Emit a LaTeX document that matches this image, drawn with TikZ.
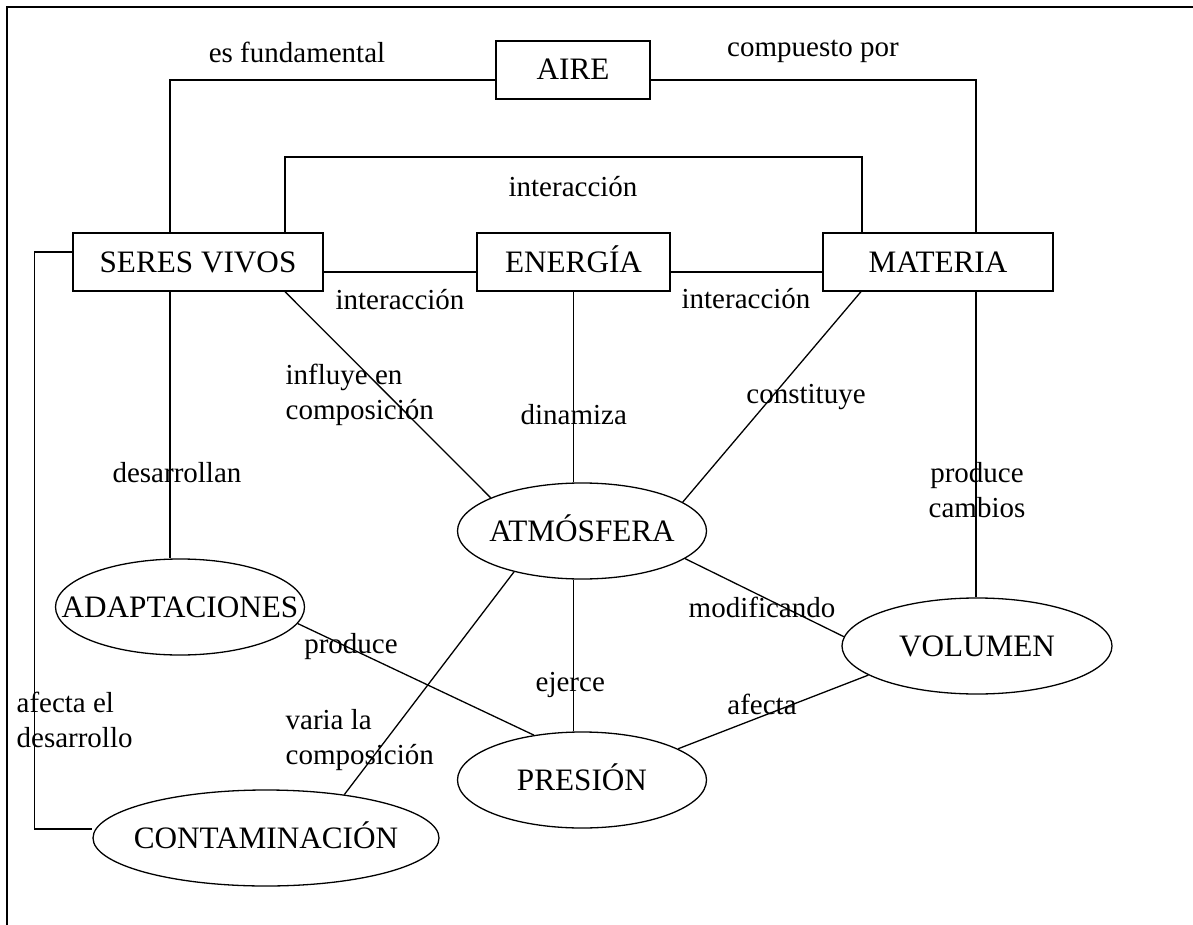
\documentclass[tikz,border=0pt]{standalone}
\usepackage{fontspec}
\setmainfont{Liberation Serif}
\usepackage{tikz}
\usetikzlibrary{shapes}

\newcommand{\ovaltext}[1]{\makebox[0pt]{#1}}

\begin{document}
\begin{tikzpicture}[x=0.5pt, y=-0.5pt, line width=0.65pt]
            \tikzstyle{concept} = [draw, rectangle, minimum height=29pt, inner sep=0pt, text height=10.5pt, text depth=0.5pt, font=\fontsize{15.6}{18}\selectfont]
            \tikzstyle{oval} = [draw, ellipse, minimum height=48pt, minimum width=124.5pt, inner sep=0pt, text height=10.5pt, text depth=0.5pt, font=\fontsize{15.6}{18}\selectfont]
            \tikzstyle{linktext} = [inner sep=0pt, font=\fontsize{14.5}{17.5}\selectfont]

            \useasboundingbox (0,0) rectangle (1193,925);
            \draw (7,925) -- (7,7) -- (1193,7);

            % concepts
            \node[concept, minimum width=77pt] (aire) at (573,70) {AIRE};
            \node[concept, minimum width=125pt] (seres) at (198,262) {SERES VIVOS};
            \node[concept, minimum width=96.5pt] (energia) at (573.5,262) {ENERGÍA};
            \node[concept, minimum width=115pt] (materia) at (938,262) {MATERIA};
            \node[oval] (atm) at (582,531) {\ovaltext{ATMÓSFERA}};
            \node[oval] (adapt) at (180,607) {\ovaltext{ADAPTACIONES}};
            \node[oval, minimum width=135pt] (vol) at (977,646) {\ovaltext{VOLUMEN}};
            \node[oval] (pres) at (582,780) {\ovaltext{PRESIÓN}};
            \node[oval, minimum width=173pt] (cont) at (266,838) {\ovaltext{CONTAMINACIÓN}};
            \coordinate (topline) at (573,157);

            % connectors
            \draw ([yshift=-5pt]aire.west) -| ([xshift=-14pt]seres.north);
            \draw ([yshift=-5pt]aire.east) -| ([xshift=19pt]materia.north);
            \draw ([xshift=43.5pt]seres.north) |- (topline) -| ([xshift=-38pt]materia.north);
            \draw ([yshift=-5pt]seres.east) -- ([yshift=-5pt]energia.west);
            \draw ([yshift=-5pt]energia.east) -- ([yshift=-5pt]materia.west);
            \draw ([xshift=43.5pt]seres.south) -- (atm.160);
            \draw (energia.south) -- (energia.south |- atm.north);
            \draw ([xshift=-38.5pt]materia.south) -- (atm.16);
            \draw ([xshift=19pt]materia.south) -- ([xshift=19pt]materia.south |- vol.north);
            \draw ([xshift=-14pt]seres.south) -- ([xshift=-14pt]seres.south |- adapt.north);
            \draw (atm.-15) -- (vol.176);
            \draw (vol.195) -- (pres.18);
            \draw (energia.south |- atm.south) -- (energia.south |- pres.north);
            \draw (atm.211) -- (cont.29);
            \draw (adapt.-8) -- (pres.137);
            \draw ([yshift=5pt]seres.west) -- ++(-19pt,0) |- ([yshift=4.5pt]cont.west);

            % link texts
            \node[linktext] (l1) at (297,52) {es fundamental};
            \node[linktext] (l2) at (813,51) {compuesto por};
            \node[linktext] (l3) at (573,187) {interacción};
            \node[linktext] (l4) at (400,300) {interacción};
            \node[linktext] (l5) at (746,299) {interacción};
            \node[linktext, anchor=west, align=left] (l6) at (285,395) {influye en\\composición};
            \node[linktext, anchor=west] (l7) at (520,415) {dinamiza};
            \node[linktext] (l8) at (806,397) {constituye};
            \node[linktext] (l9) at (177,473) {desarrollan};
            \node[linktext, align=center] (l10) at (977,490) {produce\\cambios};
            \node[linktext] (l11) at (762,607) {modificando};
            \node[linktext] (l12) at (351,647) {produce};
            \node[linktext, anchor=west] (l13) at (535,685) {ejerce};
            \node[linktext] (l14) at (762,704) {afecta};
            \node[linktext, anchor=west, align=left] (l15) at (16,720) {afecta el\\desarrollo};
            \node[linktext, anchor=west, align=left] (l16) at (285,740) {varia la\\composición};
        \end{tikzpicture}
\end{document}
